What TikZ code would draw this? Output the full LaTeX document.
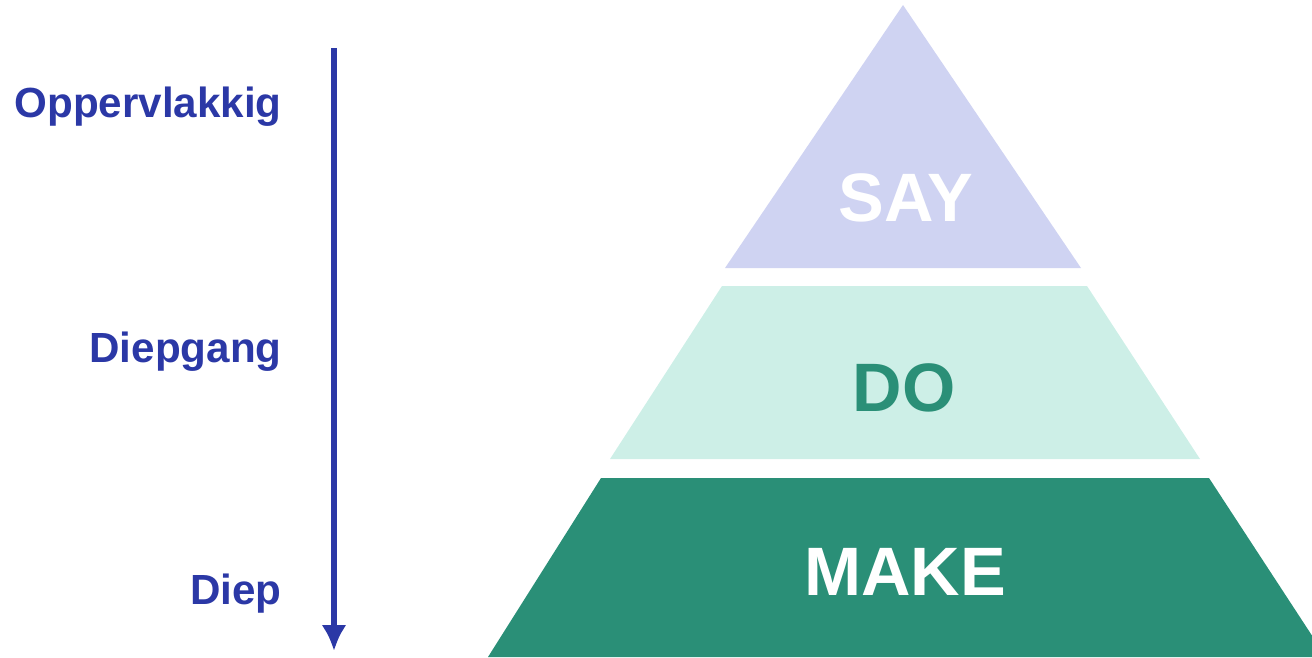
\documentclass[tikz,border=0pt]{standalone}
\usepackage{fontspec}
\setmainfont{Liberation Sans}
\usepackage{tikz}
\usetikzlibrary{arrows.meta}

\definecolor{depthblue}{HTML}{2B38A6}
\definecolor{sayfill}{HTML}{CFD3F2}
\definecolor{dofill}{HTML}{CDEFE7}
\definecolor{makefill}{HTML}{2A8F77}

\begin{document}
\begin{tikzpicture}[
    x=0.02cm, y=-0.02cm,
    >={Latex[length=0.52cm, width=0.5cm]},
    depth style/.style={font=\fontsize{24pt}{28pt}\selectfont\bfseries, text=depthblue, anchor=east, inner sep=0pt},
    layer style/.style={font=\fontsize{39pt}{44pt}\selectfont\bfseries, inner sep=0pt},
    arrow style/.style={line width=3.4pt, depthblue, ->}
]

\useasboundingbox (0,0) rectangle (1312,657);

% Draw the layers of the pyramid
\fill[sayfill] (903,5) -- (1081,268) -- (725,268) -- cycle;
\fill[dofill] (722,286) -- (1087,286) -- (1200,459) -- (610,459) -- cycle;
\fill[makefill] (601,478) -- (1209,478) -- (1326,657) -- (488,657) -- cycle;

% Add labels for the layers
\node[layer style, text=white] (say) at (906,198) {SAY};
\node[layer style, text=makefill] (do) at (904,388) {DO};
\node[layer style, text=white] (make) at (905,572) {MAKE};

% Draw the depth arrow
\coordinate (arrow top) at (334,48);
\coordinate (arrow bottom) at (334,651);
\draw[arrow style] (arrow top) -- (arrow bottom);

% Add labels for the depth
\node[depth style] (surface) at (282,107) {Oppervlakkig};
\node[depth style] (insight) at (282,352) {Diepgang};
\node[depth style] (deep) at (282,594) {Diep};
\end{tikzpicture}
\end{document}
